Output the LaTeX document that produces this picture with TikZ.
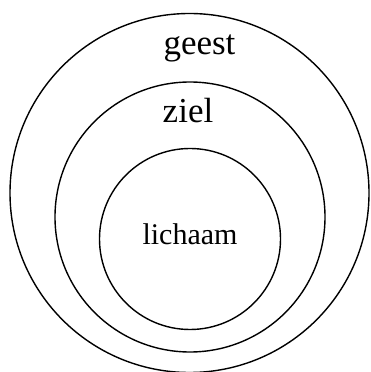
\documentclass[tikz,border=0pt]{standalone}
\usepackage{fontspec}
\setmainfont{Liberation Serif}
\usepackage{tikz}

\begin{document}
\begin{tikzpicture}[x=1pt, y=1pt, ring/.style={draw, line width=1.4pt}]
        \useasboundingbox (0,0) rectangle (370,372);
        \draw[ring] (189.5,179) circle (179.5);
        \draw[ring] (190,155) circle (135);
        \draw[ring] (190,133) circle (90.5);
        \node[anchor=base, inner sep=0pt, font=\fontsize{35}{40}\selectfont] (geest) at (199.5,317) {geest};
        \node[anchor=base, inner sep=0pt, font=\fontsize{35}{40}\selectfont] (ziel) at (188,249.5) {ziel};
        \node[anchor=base, inner sep=0pt, font=\fontsize{30}{36}\selectfont] (lichaam) at (190,127) {lichaam};
    \end{tikzpicture}
\end{document}
